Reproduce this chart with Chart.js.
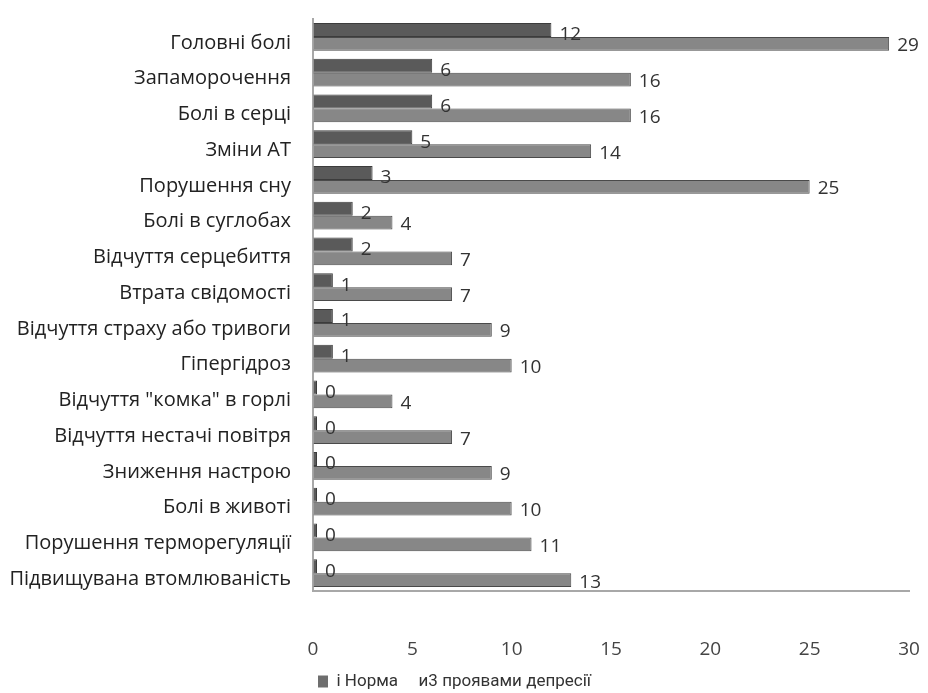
<!DOCTYPE html>
<html>
<head>
<meta charset="utf-8">
<script src="https://cdn.jsdelivr.net/npm/chart.js@4"></script>
<style>
  html, body { margin: 0; padding: 0; background: #fff; }
  #wrap { width: 928px; height: 693px; position: relative; }
</style>
</head>
<body>
<div id="wrap"><canvas id="chart-symptoms"></canvas></div>
<script>
const categories = [
  'Головні болі',
  'Запаморочення',
  'Болі в серці',
  'Зміни АТ',
  'Порушення сну',
  'Болі в суглобах',
  'Відчуття серцебиття',
  'Втрата свідомості',
  'Відчуття страху або тривоги',
  'Гіпергідроз',
  'Відчуття "комка" в горлі',
  'Відчуття нестачі повітря',
  'Зниження настрою',
  'Болі в животі',
  'Порушення терморегуляції',
  'Підвищувана втомлюваність',
];
const normValues = [12, 6, 6, 5, 3, 2, 2, 1, 1, 1, 0, 0, 0, 0, 0, 0];
const depressionValues = [29, 16, 16, 14, 25, 4, 7, 7, 9, 10, 4, 7, 9, 10, 11, 13];
const seriesLabels = ['і Норма', 'и3 проявами депресії'];
const xTicks = [0, 5, 10, 15, 20, 25, 30];

const font = "'Open Sans', 'DejaVu Sans', sans-serif";

// value labels drawn right of each bar end
const valueLabels = {
  id: 'valueLabels',
  afterDatasetsDraw(chart) {
    const ctx = chart.ctx;
    ctx.save();
    ctx.font = `19px ${font}`;
    ctx.fillStyle = '#333';
    ctx.textAlign = 'left';
    ctx.textBaseline = 'middle';
    chart.data.datasets.forEach((ds, di) => {
      const meta = chart.getDatasetMeta(di);
      meta.data.forEach((bar, i) => {
        const dy = di === 0 ? 5 : 2;
        ctx.fillText(String(ds.data[i]), bar.x + 8, bar.y + dy);
      });
    });
    ctx.restore();
  },
};

new Chart(document.getElementById('chart-symptoms'), {
  type: 'bar',
  data: {
    labels: categories,
    datasets: [
      {
        label: seriesLabels[0],
        data: normValues,
        backgroundColor: '#5a5a5a',
        borderColor: '#3c3c3c',
        borderWidth: 1,
        minBarLength: 4,
        categoryPercentage: 0.78,
        barPercentage: 1,
      },
      {
        label: seriesLabels[1],
        data: depressionValues,
        backgroundColor: '#878787',
        borderColor: '#4a4a4a',
        borderWidth: 1,
        categoryPercentage: 0.78,
        barPercentage: 1,
      },
    ],
  },
  options: {
    indexAxis: 'y',
    responsive: true,
    maintainAspectRatio: false,
    animation: false,
    layout: { padding: { top: 19, right: 19, left: 0, bottom: -7 } },
    scales: {
      x: {
        min: 0,
        max: 30,
        afterBuildTicks: (s) => { s.ticks = xTicks.map((v) => ({ value: v })); },
        afterFit: (s) => { s.height = 80; },
        grid: { display: true, drawOnChartArea: false, drawTicks: true, tickLength: 43, color: 'rgba(0,0,0,0)' },
        border: { display: true, color: '#a8a8a8', width: 2 },
        ticks: { padding: 4, color: '#444', font: { family: font, size: 19 } },
      },
      y: {
        afterFit: (s) => { s.width = 313; },
        grid: { display: true, drawOnChartArea: false, drawTicks: true, tickLength: 20, color: 'rgba(0,0,0,0)' },
        border: { display: true, color: '#a8a8a8', width: 2 },
        ticks: { padding: 2, labelOffset: 6, color: '#222', autoSkip: false, font: { family: font, size: 20 } },
      },
    },
    plugins: {
      tooltip: { enabled: false },
      legend: {
        position: 'bottom',
        labels: {
          boxWidth: 10,
          boxHeight: 12,
          padding: 2,
          color: '#333',
          font: { family: "Roboto, 'Liberation Sans', sans-serif", size: 17 },
          generateLabels: (chart) => chart.data.datasets.map((ds, i) => ({
            text: ds.label,
            fillStyle: i === 0 ? '#6e6e6e' : 'rgba(0,0,0,0)',
            strokeStyle: 'rgba(0,0,0,0)',
            lineWidth: 0,
            fontColor: '#333',
            datasetIndex: i,
          })),
        },
      },
    },
  },
  plugins: [valueLabels],
});
</script>
</body>
</html>
